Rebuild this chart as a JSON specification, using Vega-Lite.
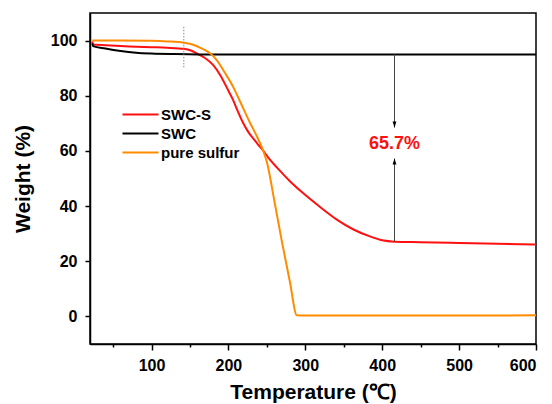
{
  "$schema": "https://vega.github.io/schema/vega-lite/v6.json",
  "width": 446,
  "height": 331,
  "autosize": "none",
  "padding": {"left": 90, "top": 13, "right": 16, "bottom": 60},
  "background": "white",
  "config": {
    "view": {"stroke": "black", "strokeWidth": 1.5},
    "font": "Liberation Sans",
    "axis": {
      "grid": false,
      "domainColor": "black",
      "domainWidth": 1.5,
      "tickColor": "black",
      "tickWidth": 1.5,
      "labelFont": "Liberation Sans",
      "labelFontWeight": "bold",
      "labelFontSize": 16,
      "labelColor": "black",
      "titleFont": "Liberation Sans",
      "titleFontWeight": "bold",
      "titleFontSize": 21,
      "titleColor": "black"
    },
    "legend": {
      "labelFont": "Liberation Sans",
      "labelFontWeight": "bold",
      "labelFontSize": 15,
      "labelColor": "black"
    }
  },
  "layer": [
    {
      "data": {
        "values": [
          {"series": "SWC-S", "T": 23, "W": 99.7},
          {"series": "SWC-S", "T": 24, "W": 98.6},
          {"series": "SWC-S", "T": 40, "W": 98.3},
          {"series": "SWC-S", "T": 60, "W": 98.0},
          {"series": "SWC-S", "T": 80, "W": 97.8},
          {"series": "SWC-S", "T": 100, "W": 97.6},
          {"series": "SWC-S", "T": 120, "W": 97.4},
          {"series": "SWC-S", "T": 142, "W": 97.0},
          {"series": "SWC-S", "T": 152, "W": 96.3},
          {"series": "SWC-S", "T": 160, "W": 95.2},
          {"series": "SWC-S", "T": 170, "W": 93.6},
          {"series": "SWC-S", "T": 180, "W": 91.2},
          {"series": "SWC-S", "T": 190, "W": 87.2},
          {"series": "SWC-S", "T": 200, "W": 81.8},
          {"series": "SWC-S", "T": 206, "W": 78.5},
          {"series": "SWC-S", "T": 212, "W": 74.5},
          {"series": "SWC-S", "T": 219, "W": 70.2},
          {"series": "SWC-S", "T": 226, "W": 66.8},
          {"series": "SWC-S", "T": 232, "W": 64.6},
          {"series": "SWC-S", "T": 238, "W": 62.5},
          {"series": "SWC-S", "T": 245, "W": 60.2},
          {"series": "SWC-S", "T": 254, "W": 56.8},
          {"series": "SWC-S", "T": 265, "W": 53.4},
          {"series": "SWC-S", "T": 280, "W": 49.0},
          {"series": "SWC-S", "T": 297, "W": 44.7},
          {"series": "SWC-S", "T": 320, "W": 39.5},
          {"series": "SWC-S", "T": 341, "W": 35.1},
          {"series": "SWC-S", "T": 362, "W": 31.6},
          {"series": "SWC-S", "T": 384, "W": 29.0},
          {"series": "SWC-S", "T": 400, "W": 27.6},
          {"series": "SWC-S", "T": 416, "W": 27.1},
          {"series": "SWC-S", "T": 450, "W": 26.9},
          {"series": "SWC-S", "T": 500, "W": 26.6},
          {"series": "SWC-S", "T": 550, "W": 26.3},
          {"series": "SWC-S", "T": 600, "W": 26.1},
          {"series": "SWC", "T": 23, "W": 99.0},
          {"series": "SWC", "T": 24, "W": 98.0},
          {"series": "SWC", "T": 40, "W": 97.1},
          {"series": "SWC", "T": 60, "W": 96.2},
          {"series": "SWC", "T": 80, "W": 95.6},
          {"series": "SWC", "T": 100, "W": 95.3},
          {"series": "SWC", "T": 130, "W": 95.1},
          {"series": "SWC", "T": 160, "W": 95.0},
          {"series": "SWC", "T": 300, "W": 95.0},
          {"series": "SWC", "T": 450, "W": 95.0},
          {"series": "SWC", "T": 600, "W": 95.0},
          {"series": "pure sulfur", "T": 23, "W": 100.0},
          {"series": "pure sulfur", "T": 60, "W": 100.0},
          {"series": "pure sulfur", "T": 100, "W": 99.9},
          {"series": "pure sulfur", "T": 120, "W": 99.7},
          {"series": "pure sulfur", "T": 142, "W": 99.2},
          {"series": "pure sulfur", "T": 155, "W": 98.4},
          {"series": "pure sulfur", "T": 165, "W": 97.2},
          {"series": "pure sulfur", "T": 172, "W": 96.2},
          {"series": "pure sulfur", "T": 177, "W": 95.2},
          {"series": "pure sulfur", "T": 185, "W": 92.8},
          {"series": "pure sulfur", "T": 195, "W": 88.5},
          {"series": "pure sulfur", "T": 206, "W": 83.3},
          {"series": "pure sulfur", "T": 215, "W": 78.0},
          {"series": "pure sulfur", "T": 228, "W": 70.2},
          {"series": "pure sulfur", "T": 237, "W": 65.3},
          {"series": "pure sulfur", "T": 245, "W": 60.2},
          {"series": "pure sulfur", "T": 250, "W": 56.0},
          {"series": "pure sulfur", "T": 260, "W": 41.5},
          {"series": "pure sulfur", "T": 270, "W": 26.5},
          {"series": "pure sulfur", "T": 280, "W": 12.5},
          {"series": "pure sulfur", "T": 289, "W": 0.4},
          {"series": "pure sulfur", "T": 300, "W": 0.3},
          {"series": "pure sulfur", "T": 400, "W": 0.3},
          {"series": "pure sulfur", "T": 500, "W": 0.3},
          {"series": "pure sulfur", "T": 600, "W": 0.4}
        ]
      },
      "mark": {"type": "line", "strokeWidth": 2, "interpolate": "monotone"},
      "encoding": {
        "x": {
          "field": "T", "type": "quantitative",
          "scale": {"domain": [20, 600], "nice": false, "zero": false},
          "axis": {
            "title": "Temperature (℃)",
            "values": [50, 100, 150, 200, 250, 300, 350, 400, 450, 500, 550, 600],
            "labelExpr": "datum.value % 100 === 0 ? datum.label : ''",
            "tickSize": {"condition": {"test": "datum.value % 100 === 0", "value": 6}, "value": 3},
            "labelPadding": 7,
            "titlePadding": 8
          }
        },
        "y": {
          "field": "W", "type": "quantitative",
          "scale": {"domain": [-10, 110], "nice": false, "zero": false},
          "axis": {
            "title": "Weight (%)",
            "values": [0, 10, 20, 30, 40, 50, 60, 70, 80, 90, 100],
            "labelExpr": "datum.value % 20 === 0 ? datum.label : ''",
            "tickSize": {"condition": {"test": "datum.value % 20 === 0", "value": 5}, "value": 3},
            "labelPadding": 8,
            "titlePadding": 17
          }
        },
        "color": {
          "field": "series", "type": "nominal",
          "scale": {"domain": ["SWC-S", "SWC", "pure sulfur"], "range": ["#ff1010", "#000000", "#ff8c00"]},
          "legend": {
            "orient": "none",
            "legendX": 43,
            "legendY": 94,
            "title": null,
            "symbolType": "M-4,0H4",
            "symbolSize": 81,
            "symbolStrokeWidth": 2,
            "labelOffset": 13,
            "rowPadding": 3
          }
        },
        "detail": {"field": "series"}
      }
    },
    {
      "data": {"values": [{"T": 142, "lo": 90.3, "hi": 105.5}]},
      "mark": {"type": "rule", "color": "#888888", "strokeWidth": 1, "strokeDash": [1.5, 1.5]},
      "encoding": {
        "x": {"field": "T", "type": "quantitative"},
        "y": {"field": "lo", "type": "quantitative"},
        "y2": {"field": "hi"}
      }
    },
    {
      "data": {"values": [{"T": 416, "a": 95, "b": 68.5}, {"T": 416, "a": 27.1, "b": 57.2}]},
      "mark": {"type": "rule", "color": "#444444", "strokeWidth": 1},
      "encoding": {
        "x": {"field": "T", "type": "quantitative"},
        "y": {"field": "a", "type": "quantitative"},
        "y2": {"field": "b"}
      }
    },
    {
      "data": {"values": [{"T": 416, "W": 69.5}]},
      "mark": {"type": "point", "shape": "M-0.6,-1L0.6,-1L0,1Z", "filled": true, "color": "black", "size": 40, "opacity": 1},
      "encoding": {
        "x": {"field": "T", "type": "quantitative"},
        "y": {"field": "W", "type": "quantitative"}
      }
    },
    {
      "data": {"values": [{"T": 416, "W": 56.2}]},
      "mark": {"type": "point", "shape": "M-0.6,1L0.6,1L0,-1Z", "filled": true, "color": "black", "size": 40, "opacity": 1},
      "encoding": {
        "x": {"field": "T", "type": "quantitative"},
        "y": {"field": "W", "type": "quantitative"}
      }
    },
    {
      "data": {"values": [{"T": 416, "W": 62.6, "label": "65.7%"}]},
      "mark": {"type": "text", "color": "#ff1010", "font": "Liberation Sans", "fontWeight": "bold", "fontSize": 18, "align": "center", "baseline": "middle"},
      "encoding": {
        "x": {"field": "T", "type": "quantitative"},
        "y": {"field": "W", "type": "quantitative"},
        "text": {"field": "label"}
      }
    }
  ]
}
